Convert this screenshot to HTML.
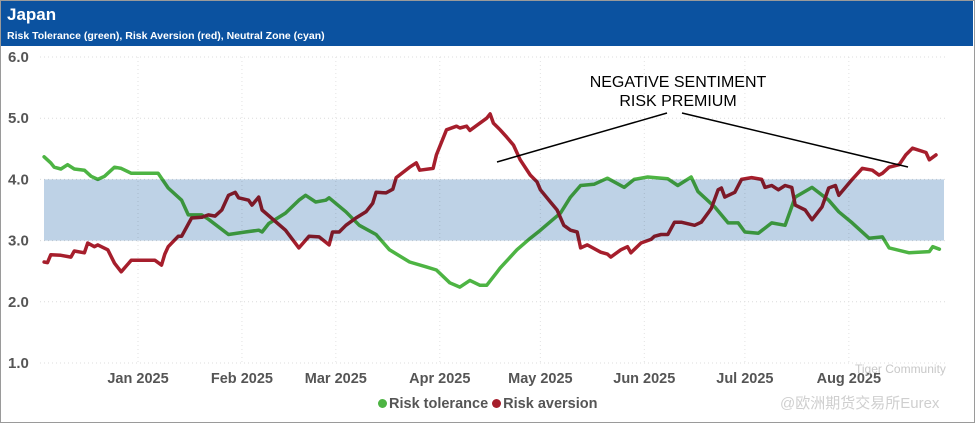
<!DOCTYPE html>
<html><head><meta charset="utf-8"><style>
body{margin:0;width:975px;height:423px;overflow:hidden;background:#fff;font-family:"Liberation Sans","Noto Sans CJK SC",sans-serif}
#frame{position:absolute;left:0;top:0;width:973px;height:421px;border:1px solid #9a9a9a;}
#hdr{position:absolute;left:1px;top:1px;width:972px;height:45px;background:#0b52a0;color:#fff}
</style></head><body>
<div id="frame"></div>
<div id="hdr">
<div style="position:absolute;left:6px;top:4px;font-size:17px;font-weight:bold">Japan</div>
<div style="position:absolute;left:6px;top:29px;font-size:10.5px;font-weight:bold">Risk Tolerance (green), Risk Aversion (red), Neutral Zone (cyan)</div>
</div>
<svg id="chart" width="975" height="423" style="position:absolute;left:0;top:0"></svg>
<script>
const yTicks=[6,5,4,3,2,1];
const monthLabels=["Jan 2025","Feb 2025","Mar 2025","Apr 2025","May 2025","Jun 2025","Jul 2025","Aug 2025"];
const monthDays=[0,31,59,90,120,151,181,212];
const bandRange=[3,4];
const tolDays=[-28,-26,-25,-23,-21,-19,-16,-14,-12,-10,-7,-5,-2,4,6,9,13,15,19,21,27,32,36,37,39,44,48,50,53,56,57,62,66,71,75,81,86,89,93,96,99,102,104,107,108,113,117,120,126,129,132,136,140,145,148,152,158,161,165,167,172,176,179,181,185,189,193,196,201,206,209,213,218,222,224,230,236,237,239];
const tolVals=[4.37,4.27,4.2,4.17,4.24,4.17,4.15,4.05,4.0,4.05,4.2,4.18,4.1,4.1,4.1,3.86,3.66,3.42,3.42,3.35,3.1,3.14,3.17,3.14,3.28,3.45,3.66,3.74,3.63,3.66,3.7,3.47,3.25,3.1,2.85,2.65,2.57,2.52,2.31,2.24,2.35,2.27,2.27,2.48,2.55,2.85,3.04,3.17,3.45,3.71,3.9,3.92,4.02,3.87,4.0,4.04,4.01,3.9,4.04,3.8,3.55,3.29,3.29,3.14,3.12,3.29,3.25,3.71,3.87,3.66,3.47,3.29,3.04,3.06,2.88,2.8,2.82,2.9,2.86];
const avDays=[-28,-27,-26,-23,-20,-19,-16,-15,-13,-12,-9,-7,-5,-2,5,7,8,9,12,13,16,19,21,23,25,27,29,30,33,34,36,37,44,48,51,54,57,58,60,62,65,68,70,71,74,76,77,81,83,84,88,89,92,95,96,98,99,104,105,106,108,110,112,114,117,119,120,123,125,127,129,131,132,134,138,140,141,144,146,147,150,153,154,156,158,160,162,166,168,170,171,173,174,175,178,180,183,186,187,189,191,193,195,196,199,201,204,206,208,209,213,216,219,221,222,224,227,229,231,235,236,238];
const avVals=[2.65,2.64,2.77,2.76,2.73,2.83,2.8,2.96,2.9,2.93,2.85,2.63,2.49,2.68,2.68,2.6,2.78,2.9,3.07,3.07,3.37,3.38,3.42,3.4,3.5,3.74,3.79,3.7,3.66,3.58,3.71,3.5,3.17,2.88,3.07,3.06,2.93,3.14,3.14,3.25,3.37,3.47,3.61,3.79,3.78,3.84,4.03,4.2,4.27,4.15,4.18,4.4,4.81,4.87,4.84,4.87,4.8,5.0,5.07,4.92,4.81,4.69,4.56,4.32,4.07,3.96,3.83,3.63,3.5,3.25,3.17,3.14,2.88,2.93,2.81,2.78,2.73,2.85,2.9,2.8,2.96,3.02,3.07,3.1,3.1,3.3,3.3,3.25,3.3,3.45,3.53,3.83,3.86,3.71,3.79,4.0,4.03,4.0,3.87,3.9,3.83,3.9,3.87,3.58,3.5,3.34,3.55,3.86,3.9,3.74,4.0,4.18,4.15,4.07,4.1,4.2,4.24,4.4,4.51,4.44,4.32,4.4];
const NS="http://www.w3.org/2000/svg";
const svg=document.getElementById('chart');
const X=d=>138+d*3.353, Y=v=>363-(v-1)*61.2;
function mk(t,a){const e=document.createElementNS(NS,t);for(const k in a)e.setAttribute(k,a[k]);svg.appendChild(e);return e;}
yTicks.forEach(v=>{
 const g=mk('line',{x1:40,x2:945,y1:Y(v),y2:Y(v),stroke:'#dcdcdc','stroke-dasharray':'1 3'});
 
 
 const t=mk('text',{x:8,y:Y(v)+5,'font-size':15,'font-weight':'bold',fill:'#555'});
 t.textContent=v.toFixed(1);
 
 
});
monthLabels.forEach((m,i)=>{
 const g=mk('line',{x1:X(monthDays[i]),x2:X(monthDays[i]),y1:57,y2:363,stroke:'#e2e2e2','stroke-dasharray':'1 3'});
 
 
 const t=mk('text',{x:X(monthDays[i]),y:383,'font-size':14.5,'font-weight':'bold',fill:'#555','text-anchor':'middle'});
 t.textContent=m;
 
 
});
function line(days,vals,col,name){
 const p=mk('path',{d:days.map((d,i)=>(i?'L':'M')+X(d).toFixed(1)+' '+Y(vals[i]).toFixed(1)).join(''),fill:'none',stroke:col,'stroke-width':3.5,'stroke-linejoin':'round','stroke-linecap':'round'});
 
 
}
line(tolDays,tolVals,'#4db443','risk-tolerance-line');
line(avDays,avVals,'#a61e2c','risk-aversion-line');
const band=mk('rect',{x:44,y:Y(bandRange[1]),width:900,height:Y(bandRange[0])-Y(bandRange[1]),fill:'#bed2e6',style:'mix-blend-mode:multiply'});


[[497,162,667,113],[682,113,908,167]].forEach(a=>{
 const l=mk('line',{x1:a[0],y1:a[1],x2:a[2],y2:a[3],stroke:'#000','stroke-width':1.5});
 
 
});
[["NEGATIVE SENTIMENT",87],["RISK PREMIUM",106]].forEach(a=>{
 const t=mk('text',{x:678,y:a[1],'font-size':16,fill:'#000','text-anchor':'middle'});
 t.textContent=a[0];
 
 
});
</script>
<div style="position:absolute;left:378px;top:396px;font-size:14.5px;font-weight:bold;color:#555;white-space:nowrap">
<span><span style="display:inline-block;width:9px;height:9px;border-radius:50%;background:#4db443;margin-right:2px"></span>Risk tolerance</span>
<span><span style="display:inline-block;width:9px;height:9px;border-radius:50%;background:#a61e2c;margin-right:2px"></span>Risk aversion</span>
</div>
<div style="position:absolute;left:855px;top:362px;font-size:12px;color:#c8c8c8">Tiger Community</div>
<div style="position:absolute;left:780px;top:392px;font-size:15px;color:#cfcfcf">@欧洲期货交易所Eurex</div>
</body></html>
